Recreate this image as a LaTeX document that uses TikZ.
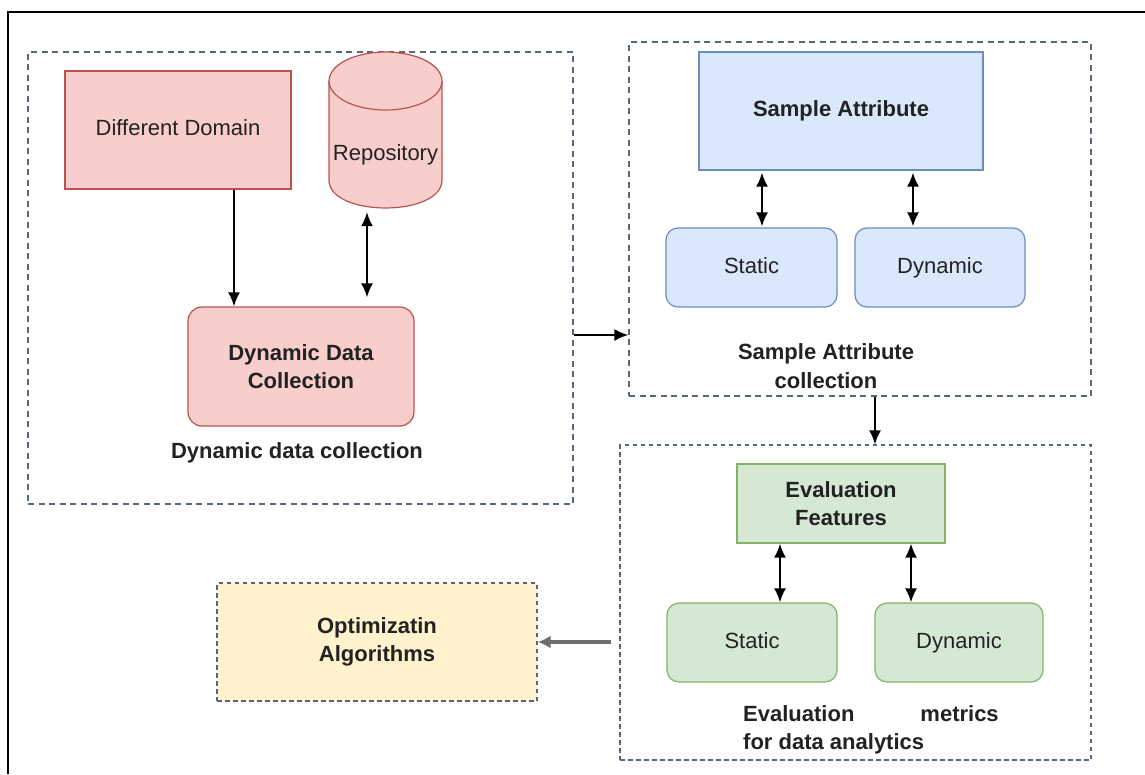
\documentclass[tikz,border=0pt]{standalone}
\usepackage{fontspec}
\setmainfont{Liberation Sans}
\usetikzlibrary{arrows.meta}
\definecolor{redfill}{HTML}{F8CECC}
\definecolor{redline}{HTML}{B85450}
\definecolor{bluefill}{HTML}{DAE8FC}
\definecolor{blueline}{HTML}{6C8EBF}
\definecolor{greenfill}{HTML}{D5E8D4}
\definecolor{greenline}{HTML}{82B366}
\definecolor{yellowfill}{HTML}{FFF2CC}
\definecolor{grpline}{HTML}{56687A}
\definecolor{txt}{HTML}{222222}
\definecolor{grayarrow}{HTML}{6E6E6E}
\tikzset{
  grp/.style={draw=grpline, line width=1.2pt, dash pattern=on 6pt off 4.5pt, inner sep=0pt},
  redbox/.style={draw=redline, fill=redfill, line width=1.2pt, inner sep=0pt, align=center},
  bluebox/.style={draw=blueline, fill=bluefill, line width=1.2pt, inner sep=0pt, align=center},
  greenbox/.style={draw=greenline, fill=greenfill, line width=1.2pt, inner sep=0pt, align=center},
  oneline/.style={text height=16pt, text depth=5pt},
  lbl/.style={font=\fontsize{22}{28.5}\selectfont\bfseries, align=center, inner sep=0pt},
  arr/.style={line width=2pt, -{Latex[length=14pt,width=12pt]}},
  dbl/.style={line width=2pt, {Latex[length=14pt,width=12pt]}-{Latex[length=14pt,width=12pt]}},
  garr/.style={draw=grayarrow, line width=3.2pt, -{Latex[length=13pt,width=13pt]}},
}
\begin{document}
\begin{tikzpicture}[x=1pt,y=-1pt,font=\fontsize{22}{28.5}\selectfont,text=txt]
\useasboundingbox[fill=white] (0,0) rectangle (1145,774);
% outer frame
\draw[line width=2.5pt] (8,774) -- (8,12) -- (1145,12);

% group boxes
\node[grp, minimum width=545pt, minimum height=452pt] (box1) at (300.5,278) {};
\node[grp, minimum width=462pt, minimum height=354pt] (box2) at (860,219) {};
\node[grp, minimum width=471pt, minimum height=315pt, dash pattern=on 4.5pt off 3.5pt] (box3) at (855.5,602.5) {};

% left group
\node[redbox, oneline, minimum width=226pt, minimum height=118pt] (dd) at (178,130) {Different Domain};
\node[inner sep=0pt, minimum width=113pt, minimum height=156pt] (repo) at (385.5,130) {};
\fill[redfill] (329,81) -- (329,180) .. controls (329,217.3) and (442,217.3) .. (442,180)
   -- (442,81) .. controls (442,42.3) and (329,42.3) .. (329,81) -- cycle;
\draw[redline, line width=1.2pt] (329,81) -- (329,180) .. controls (329,217.3) and (442,217.3) .. (442,180)
   -- (442,81);
\draw[redline, line width=1.2pt] (385.5,81) ellipse [x radius=56.5, y radius=29];
\node[oneline] (repotext) at (385.5,155) {Repository};
\node[redbox, rounded corners=14pt, minimum width=226pt, minimum height=119pt,
      font=\fontsize{22}{28.5}\selectfont\bfseries] (ddc) at (301,366.5) {Dynamic Data\\Collection};
\node[lbl] (lab1) at (297,453) {Dynamic data collection};

\draw[arr] ([xshift=56pt]dd.south) -- ([xshift=56pt]dd.south |- ddc.north);
\draw[dbl] ([xshift=-18.5pt,yshift=-4pt]repo.south) -- ([xshift=-18.5pt,yshift=9pt]repo.south |- ddc.north);

% sample attribute group
\node[bluebox, oneline, minimum width=284pt, minimum height=118pt,
      font=\fontsize{22}{28.5}\selectfont\bfseries] (sa) at (841,111) {Sample Attribute};
\node[bluebox, oneline, rounded corners=12pt, minimum width=171pt, minimum height=79pt] (st1) at (751.5,267.5) {Static};
\node[bluebox, oneline, rounded corners=12pt, minimum width=170pt, minimum height=79pt] (dy1) at (940,267.5) {Dynamic};
\node[lbl] (lab2) at (826,366) {Sample Attribute\\collection};
\draw[dbl] ([xshift=10.5pt,yshift=-2pt]st1.north |- sa.south) -- ([xshift=10.5pt,yshift=1pt]st1.north);
\draw[dbl] ([xshift=-27pt,yshift=-2pt]dy1.north |- sa.south) -- ([xshift=-27pt,yshift=1pt]dy1.north);

% evaluation group
\node[greenbox, minimum width=208pt, minimum height=79pt,
      font=\fontsize{22}{28.5}\selectfont\bfseries] (ef) at (841,503.5) {Evaluation\\Features};
\node[greenbox, oneline, rounded corners=12pt, minimum width=170pt, minimum height=79pt] (st2) at (752,642.5) {Static};
\node[greenbox, oneline, rounded corners=12pt, minimum width=168pt, minimum height=79pt] (dy2) at (959,642.5) {Dynamic};
\node[lbl, align=left, anchor=west] (lab3) at (743,730) {Evaluation\hspace{66pt}metrics\\for data analytics};
\draw[dbl] ([xshift=28pt]st2.north |- ef.south) -- ([xshift=28pt]st2.north);
\draw[dbl] ([xshift=-48pt]dy2.north |- ef.south) -- ([xshift=-48pt]dy2.north);

% optimization
\node[grp, fill=yellowfill, dash pattern=on 4.5pt off 3.5pt, minimum width=320pt, minimum height=118pt,
      align=center, font=\fontsize{22}{28.5}\selectfont\bfseries] (opt) at (377,642) {Optimizatin\\Algorithms};

% flow arrows between groups
\draw[arr] ([yshift=-57pt]box1.east) -- ([yshift=-57pt]box1.east -| box2.west);
\draw[arr] ([xshift=15pt]box2.south) -- ([xshift=15pt]box2.south |- box3.north);
\draw[garr] ([xshift=-8pt]box3.west |- opt.east) -- (opt.east);
\end{tikzpicture}
\end{document}
